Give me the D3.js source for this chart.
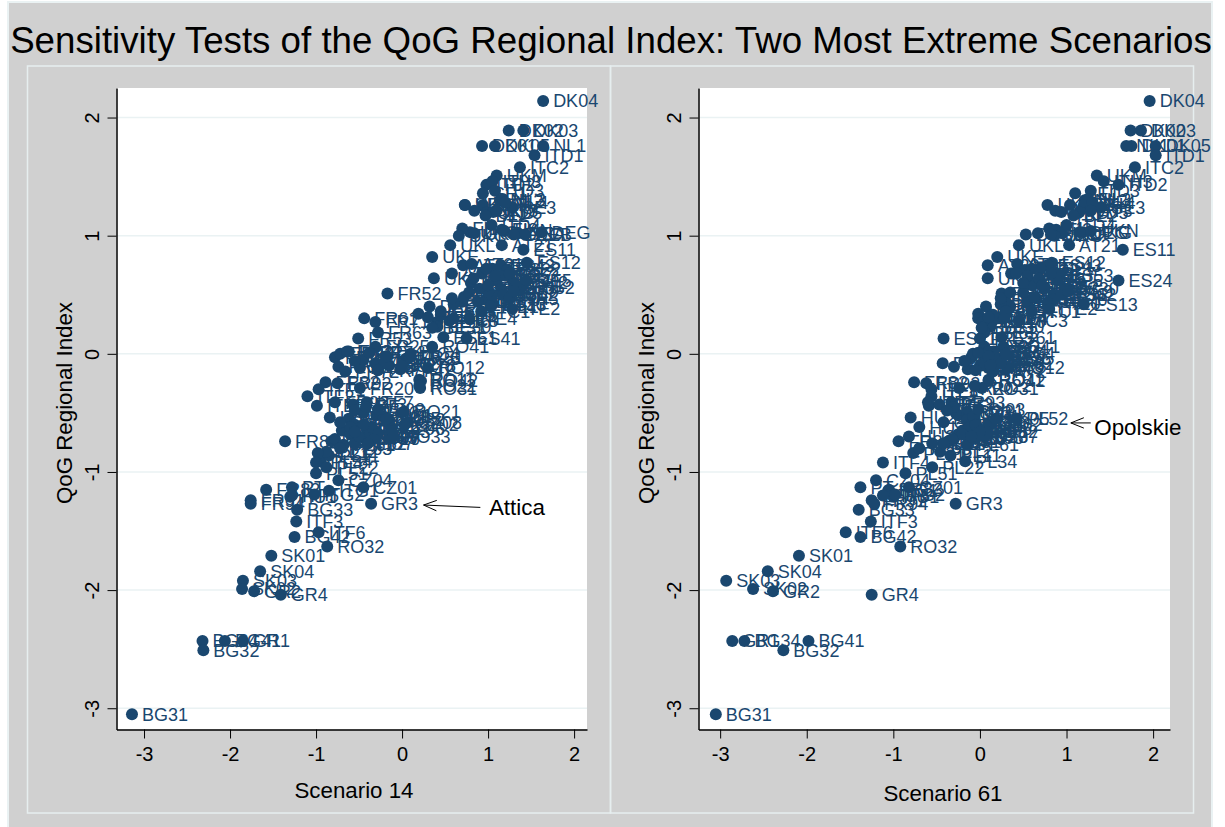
<!DOCTYPE html>
<html>
<head>
<meta charset="utf-8">
<script src="https://cdnjs.cloudflare.com/ajax/libs/d3/7.8.5/d3.min.js"></script>
<style>
    html, body { margin: 0; padding: 0; background: #fff; }
    svg { display: block; }
    text { font-family: "Liberation Sans", Arial, sans-serif; }
</style>
</head>
<body>
<div id="chart"></div>
<script>
var regionCodes = [
    'DK04', 'DK03', 'DK02', 'DK01', 'DK05', 'NL1', 'ITD1', 'ITC2', 'UKM', 'ITD2',
    'ITH3', 'ITD3', 'NL2', 'NL3', 'SE1', 'SE2', 'SE3', 'UKJ', 'UKH', 'UKK',
    'UKD', 'NL4', 'ITD5', 'BE2', 'AT3', 'UKN', 'UKG', 'DEG', 'ITD4', 'FI1',
    'FI2', 'UKF', 'UKC', 'AT21', 'UKL', 'DEA', 'DEB', 'DEC', 'ES11', 'UKE',
    'UKI', 'AT11', 'FR52', 'AT22', 'AT31', 'ES12', 'ES24', 'ES13', 'ES43', 'ES21',
    'ES22', 'ES23', 'ES30', 'ES42', 'ES51', 'ES52', 'ES53', 'ES61', 'ES62', 'ES70',
    'PT20', 'FR10', 'ITH1', 'ITH2', 'ITH5', 'ITE1', 'ITE2', 'ITE3', 'ITE4', 'ITC1',
    'ITC3', 'BE10', 'BE30', 'DE1', 'DE2', 'DE3', 'DE4', 'DE5', 'DE6', 'DE7',
    'DE8', 'DE9', 'DED', 'DEE', 'DEF', 'LU', 'FR61', 'FR71', 'FR63', 'FR53',
    'ES41', 'RO41', 'FR25', 'RO12', 'FR26', 'RO11', 'RO42', 'RO31', 'RO22', 'RO21',
    'CZ08', 'CZ02', 'CZ06', 'CZ07', 'CZ03', 'CZ05', 'CZ04', 'CZ01', 'PL52', 'PL32',
    'PL34', 'PL22', 'PL51', 'PL11', 'PL12', 'PL21', 'PL31', 'PL33', 'PL41', 'PL42',
    'PL43', 'PL61', 'PL62', 'PL63', 'HU1', 'HU2', 'HU3', 'FR81', 'FR83', 'PT',
    'FR91', 'FR94', 'ITG1', 'ITG2', 'ITF4', 'ITF6', 'ITF3', 'ITF5', 'BG33', 'BG42',
    'RO32', 'GR3', 'SK01', 'SK04', 'SK03', 'SK02', 'GR2', 'GR4', 'BG34', 'BG41',
    'GR1', 'BG32', 'BG31', 'FR21', 'FR22', 'FR23', 'FR24', 'FR30', 'FR41', 'FR42',
    'FR43', 'FR51', 'FR62', 'FR72', 'FR82', 'FR92', 'FR20', 'IE01', 'IE02', 'ITC4',
    'ITF1', 'ITF2', 'ITE5', 'FR93', 'FR73', 'ITF7', 'HU21', 'HU31', 'HU32', 'HU33',
    'SI01', 'SI02', 'LT', 'LV', 'EE', 'MT', 'CY', 'ES63', 'ITE6', 'BE31',
    'DEH', 'DEI', 'SE4', 'ES64', 'FR74', 'FR75', 'FR76', 'FR77', 'FR78', 'HU4',
    'HU5', 'HU6', 'HU7', 'RO33', 'SK05', 'SI03'
];

var qogIndex = [
    2.14, 1.89, 1.89, 1.76, 1.76, 1.76, 1.68, 1.58, 1.51, 1.43,
    1.46, 1.38, 1.30, 1.31, 1.36, 1.26, 1.24, 1.26, 1.26, 1.21,
    1.20, 1.28, 1.20, 1.17, 1.21, 1.04, 1.03, 1.03, 1.09, 1.06,
    1.05, 1.02, 1.00, 0.92, 0.92, 1.02, 1.01, 1.01, 0.88, 0.82,
    0.64, 0.68, 0.51, 0.75, 0.76, 0.77, 0.62, 0.42, 0.75, 0.72,
    0.71, 0.68, 0.55, 0.60, 0.50, 0.56, 0.66, 0.14, 0.50, 0.46,
    0.43, 0.44, 0.58, 0.52, 0.47, 0.40, 0.38, 0.44, 0.30, 0.36,
    0.28, 0.27, 0.23, 0.72, 0.66, 0.60, 0.55, 0.62, 0.64, 0.68,
    0.58, 0.53, 0.48, 0.42, 0.40, 0.34, 0.30, 0.27, 0.18, 0.13,
    0.13, 0.06, 0.06, -0.12, -0.04, -0.22, -0.23, -0.29, -0.27, -0.49,
    -0.58, -0.60, -0.63, -0.70, -0.66, -0.71, -1.07, -1.13, -0.55, -0.66,
    -0.91, -0.96, -1.01, -0.86, -0.83, -0.84, -0.74, -0.72, -0.65, -0.68,
    -0.60, -0.77, -0.76, -0.80, -1.21, -0.62, -0.70, -0.74, -1.15, -1.13,
    -1.24, -1.27, -1.16, -1.19, -0.92, -1.51, -1.42, -1.20, -1.32, -1.55,
    -1.63, -1.27, -1.71, -1.84, -1.92, -1.99, -2.01, -2.04, -2.43, -2.43,
    -2.43, -2.51, -3.05, 0.02, -0.03, 0.00, 0.02, -0.08, -0.11, -0.13,
    -0.12, -0.03, -0.08, -0.15, -0.24, -0.25, -0.29, -0.05, -0.10, 0.00,
    -0.30, -0.36, -0.44, -0.41, -0.43, -0.41, -0.54, -0.52, -0.56, -0.50,
    -0.53, -0.62, -0.68, -0.72, -0.45, -0.48, -0.58, 0.33, 0.31, 0.22,
    0.36, 0.47, 0.30, 0.52, 0.01, -0.02, -0.06, -0.14, -0.10, -0.60,
    -0.66, -0.72, -0.76, -0.70, -0.55, -0.47
];

var scenario14 = [
    1.64, 1.41, 1.24, 0.93, 1.08, 1.64, 1.54, 1.37, 1.10, 0.98,
    1.05, 1.08, 1.14, 1.17, 0.94, 0.73, 1.28, 0.73, 0.94, 0.84,
    0.99, 1.20, 1.06, 0.97, 1.10, 1.19, 0.79, 1.62, 1.04, 0.70,
    1.16, 0.84, 0.66, 1.16, 0.56, 1.35, 1.43, 1.30, 1.41, 0.35,
    0.37, 0.58, -0.17, 0.71, 0.81, 1.45, 1.10, 1.05, 1.15, 1.05,
    1.22, 0.93, 1.15, 1.30, 1.05, 1.38, 1.20, 0.48, 1.18, 0.98,
    1.05, 0.70, 1.32, 1.00, 1.25, 1.03, 1.28, 0.88, 0.78, 0.92,
    0.55, 0.41, 0.41, 0.98, 1.08, 0.80, 0.90, 1.45, 0.83, 1.25,
    1.00, 1.30, 0.72, 0.60, 0.32, 0.19, -0.44, -0.31, -0.28, -0.51,
    0.75, 0.35, -0.31, 0.30, 0.05, 0.20, 0.22, 0.21, 0.20, 0.02,
    0.07, 0.03, -0.13, -0.42, -0.30, -0.45, -0.74, -0.45, -0.62, -0.40,
    -0.95, -0.88, -1.00, -0.85, -0.88, -0.98, -0.82, -0.78, -0.70, -0.60,
    -0.55, -0.68, -0.55, -0.72, -1.30, -0.60, -0.50, -1.36, -1.58, -1.28,
    -1.76, -1.76, -0.85, -1.02, -1.00, -0.97, -1.23, -1.28, -1.22, -1.25,
    -0.87, -0.36, -1.52, -1.65, -1.85, -1.86, -1.72, -1.41, -2.32, -2.06,
    -1.85, -2.31, -3.14, -0.62, -0.78, -0.72, -0.64, -0.31, -0.74, -0.02,
    -0.49, 0.09, -0.20, -0.66, -0.89, -0.75, -0.49, -0.45, -0.15, 0.10,
    -0.97, -1.10, -0.99, -0.78, -0.57, -0.41, -0.84, -0.30, -0.15, -0.45,
    -0.22, -0.35, -0.28, -0.15, -0.42, -0.55, -0.72, 0.45, 0.30, 0.35,
    0.45, 0.58, 0.60, 0.78, -0.38, -0.18, -0.55, -0.28, 0.00, -0.45,
    -0.55, -0.33, -0.40, -0.10, -0.18, -0.28
];

var scenario61 = [
    1.96, 1.86, 1.74, 1.75, 2.03, 1.69, 2.03, 1.79, 1.35, 1.60,
    1.43, 1.28, 1.21, 1.25, 1.10, 1.04, 1.40, 0.78, 1.20, 0.87,
    0.94, 1.30, 1.15, 1.08, 1.28, 1.28, 1.19, 1.15, 1.00, 0.80,
    0.88, 0.95, 0.86, 1.03, 0.45, 0.67, 0.53, 0.82, 1.65, 0.20,
    0.09, 0.36, 0.25, 0.09, 0.43, 0.83, 1.60, 1.20, 0.78, 0.70,
    0.52, 0.42, 0.98, 0.60, 0.85, 0.75, 0.92, 0.25, 0.95, 0.85,
    0.78, 0.55, 0.60, 0.50, 0.65, 0.35, 0.80, 0.30, 0.22, 0.60,
    0.45, 0.14, 0.12, 0.60, 0.55, 0.50, 0.74, 0.90, 0.68, 0.82,
    0.72, 1.02, 0.62, 0.24, 0.07, -0.02, -0.02, 0.03, 0.05, 0.00,
    -0.42, 0.27, 0.05, 0.32, 0.20, 0.10, 0.10, 0.02, -0.06, -0.15,
    -0.05, 0.10, -0.02, 0.05, -0.20, -0.12, -1.20, -0.82, 0.42, 0.07,
    -0.17, -0.55, -0.86, -0.34, -0.46, -0.77, -0.36, -0.30, -0.20, -0.25,
    -0.10, -0.15, -0.55, -0.70, -1.00, -0.70, -0.82, -0.94, -1.05, -1.38,
    -1.25, -1.22, -1.06, -0.98, -1.12, -1.55, -1.26, -1.12, -1.40, -1.38,
    -0.92, -0.28, -2.09, -2.45, -2.93, -2.62, -2.39, -1.25, -2.72, -1.98,
    -2.86, -2.27, -3.05, 0.10, -0.10, -0.08, 0.16, -0.43, -0.30, -0.14,
    0.10, 0.16, 0.24, 0.15, -0.76, -0.62, -0.24, 0.06, 0.00, 0.30,
    -0.56, -0.56, -0.59, -0.33, -0.47, -0.60, -0.80, -0.25, -0.15, -0.28,
    -0.08, -0.12, -0.20, -0.05, -0.30, -0.38, -0.42, 0.15, 0.10, 0.02,
    0.30, 0.24, 0.28, 0.35, -0.02, 0.10, -0.18, -0.05, 0.12, -0.05,
    0.00, -0.32, -0.42, -0.10, 0.18, -0.02
];

var yTicks = [-3, -2, -1, 0, 1, 2];
var xTicks = [-3, -2, -1, 0, 1, 2];

var titleText = 'Sensitivity Tests of the QoG Regional Index: Two Most Extreme Scenarios';
var yTitle = 'QoG Regional Index';

(function () {
    'use strict';

    var navy = '#1a476f';
    var frame = '#e6eeef';
    var grey = '#d0d0d0';

    var width = 1225;
    var height = 827;

    var svg = d3.select('#chart').append('svg')
        .attr('width', width)
        .attr('height', height);

    svg.append('rect')
        .attr('x', 8).attr('y', 2)
        .attr('width', 1204).attr('height', 830)
        .style('fill', grey).style('stroke', '#eaf2f3').style('stroke-width', 2);

    svg.append('text')
        .attr('x', 611).attr('y', 53)
        .attr('text-anchor', 'middle')
        .style('font-size', '36.7px')
        .style('fill', '#000')
        .text(titleText);

    // the two graphs, each in its own light frame
    svg.append('rect')
        .attr('x', 27.5).attr('y', 66)
        .attr('width', 583).attr('height', 747)
        .style('fill', 'none').style('stroke', frame).style('stroke-width', 1.5);
    svg.append('rect')
        .attr('x', 610.5).attr('y', 66)
        .attr('width', 583).attr('height', 747)
        .style('fill', 'none').style('stroke', frame).style('stroke-width', 1.5);

    var yScale = d3.scaleLinear().domain([-3.18, 2.25]).range([729.5, 88]);

    drawPanel({
        xValues: scenario14,
        xTitle: 'Scenario 14',
        xScale: d3.scaleLinear().domain([-3.32, 2.15]).range([116.5, 587]),
        yTickX: 92,
        yTitleX: 72,
        xTitleX: 354,
        xTitleY: 798,
        note: { text: 'Attica', tail: [0.91, -1.30], tip: [0.25, -1.28], at: [1.01, -1.30] }
    });

    drawPanel({
        xValues: scenario61,
        xTitle: 'Scenario 61',
        xScale: d3.scaleLinear().domain([-3.25, 2.195]).range([698.5, 1170]),
        yTickX: 674,
        yTitleX: 654,
        xTitleX: 943,
        xTitleY: 801,
        note: { text: 'Opolskie', tail: [1.28, -0.585], tip: [1.05, -0.585], at: [1.32, -0.62] }
    });

    function drawPanel(panel) {
        var xScale = panel.xScale;
        var g = svg.append('g');
        var left = xScale.range()[0];
        var right = xScale.range()[1];

        g.append('rect')
            .attr('x', left).attr('y', yScale.range()[1])
            .attr('width', right - left)
            .attr('height', yScale.range()[0] - yScale.range()[1])
            .style('fill', '#fff');

        g.selectAll('line.grid')
            .data(yTicks)
            .enter().append('line')
            .attr('class', 'grid')
            .attr('x1', left).attr('x2', right)
            .attr('y1', function (d) { return yScale(d); })
            .attr('y2', function (d) { return yScale(d); })
            .style('stroke', '#eaf2f3').style('stroke-width', 1.5);

        var yAxis = d3.axisLeft(yScale).tickValues(yTicks).tickSize(9).tickSizeOuter(0).tickPadding(0)
            .tickFormat(String);
        var xAxis = d3.axisBottom(xScale).tickValues(xTicks).tickSize(9).tickSizeOuter(0).tickPadding(8)
            .tickFormat(String);

        var yG = g.append('g').attr('transform', 'translate(' + left + ',0)').call(yAxis);
        var xG = g.append('g').attr('transform', 'translate(0,' + yScale.range()[0] + ')').call(xAxis);

        [yG, xG].forEach(function (axis) {
            axis.select('.domain').style('stroke', '#000').style('stroke-width', 1.5);
            axis.selectAll('.tick line').style('stroke', '#000').style('stroke-width', 1);
            axis.selectAll('.tick text')
                .style('font-size', '20px')
                .style('font-family', '"Liberation Sans", Arial, sans-serif')
                .style('fill', '#000');
        });

        // Stata style: y tick labels turned on their side
        yG.selectAll('.tick text')
            .attr('text-anchor', 'middle')
            .attr('x', null).attr('dy', null)
            .attr('transform', function () {
                return 'translate(' + (panel.yTickX + 7 - left) + ',0) rotate(-90)';
            });

        var rows = regionCodes.map(function (code, i) {
            return { code: code, x: panel.xValues[i], y: qogIndex[i] };
        });

        g.selectAll('circle.region')
            .data(rows)
            .enter().append('circle')
            .attr('class', 'region')
            .attr('cx', function (d) { return xScale(d.x); })
            .attr('cy', function (d) { return yScale(d.y); })
            .attr('r', 6)
            .style('fill', navy);

        g.selectAll('text.region')
            .data(rows)
            .enter().append('text')
            .attr('class', 'region')
            .attr('x', function (d) { return xScale(d.x) + 10; })
            .attr('y', function (d) { return yScale(d.y) + 6.5; })
            .style('font-size', '18px')
            .style('fill', navy)
            .text(function (d) { return d.code; });

        g.append('text')
            .attr('x', panel.xTitleX).attr('y', panel.xTitleY)
            .attr('text-anchor', 'middle')
            .style('font-size', '22.3px')
            .text(panel.xTitle);

        g.append('text')
            .attr('transform', 'translate(' + panel.yTitleX + ',403) rotate(-90)')
            .attr('text-anchor', 'middle')
            .style('font-size', '22.3px')
            .text(yTitle);

        drawNote(g, panel.note, xScale);
    }

    function drawNote(g, note, xScale) {
        var tipX = xScale(note.tip[0]);
        var tipY = yScale(note.tip[1]);
        var tailX = xScale(note.tail[0]);
        var tailY = yScale(note.tail[1]);
        var angle = Math.atan2(tailY - tipY, tailX - tipX);
        var head = 14;
        var spread = 0.38;
        var path = d3.path();

        path.moveTo(tailX, tailY);
        path.lineTo(tipX, tipY);
        path.lineTo(tipX + head * Math.cos(angle - spread), tipY + head * Math.sin(angle - spread));
        path.moveTo(tipX, tipY);
        path.lineTo(tipX + head * Math.cos(angle + spread), tipY + head * Math.sin(angle + spread));

        g.append('path')
            .attr('d', path.toString())
            .style('fill', 'none').style('stroke', '#000').style('stroke-width', 1);

        g.append('text')
            .attr('x', xScale(note.at[0]))
            .attr('y', yScale(note.at[1]) + 8)
            .style('font-size', '22.4px')
            .text(note.text);
    }
})();
</script>
</body>
</html>
